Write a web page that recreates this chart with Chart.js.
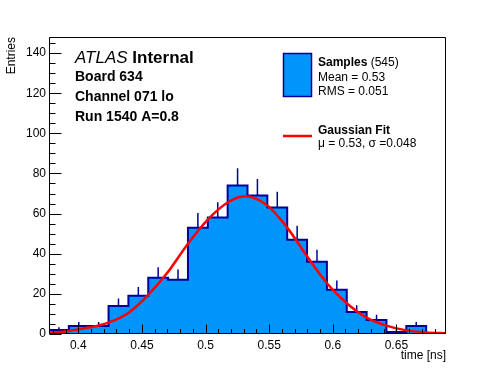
<!DOCTYPE html>
<html><head><meta charset="utf-8">
<script src="https://cdn.jsdelivr.net/npm/chart.js@4.4.1/dist/chart.umd.min.js"></script>
<style>html,body{margin:0;padding:0;background:#fff;}#wrap{width:496px;height:372px;}</style>
</head><body><div id="wrap"><canvas id="c" width="496" height="372"></canvas></div>
<script>
// ---- data ----
const histMin = 0.377;
const histMax = 0.689;
const counts = [2, 4, 4, 14, 19, 28, 27, 53, 58, 74, 69, 63, 47, 36, 22, 11, 7, 1, 4, 0];
const errUp  = [1.4, 2, 2, 3.7, 4.4, 5.3, 5.2, 7.3, 7.6, 8.6, 8.3, 7.9, 6.9, 6, 4.7, 3.3, 2.6, 1, 2, 0];
const fitX = [0.377, 0.3926, 0.4082, 0.4238, 0.4394, 0.455, 0.4706, 0.4862, 0.5018, 0.5174, 0.531,
              0.5486, 0.5642, 0.5798, 0.5954, 0.611, 0.6266, 0.6422, 0.6578, 0.6734, 0.689];
const fitY = [0.5, 1.5, 3.2, 5.7, 10.5, 19.5, 31, 45, 57, 65.5, 68.6,
              64, 53, 38.7, 25.3, 15.3, 8.2, 4.2, 1.8, 0.8, 0.4];
const xTicks = [0.4, 0.45, 0.5, 0.55, 0.6, 0.65];
const yTicks = [0, 20, 40, 60, 80, 100, 120, 140];
const yMax = 148;

const textLines = ["Board 634", "Channel 071 lo", "Run 1540 A=0.8"];
const legendSamples = {title: "Samples", count: "(545)", lines: ["Mean = 0.53", "RMS = 0.051"]};
const legendFit = {title: "Gaussian Fit", line: "\u03bc = 0.53, \u03c3 =0.048"};

// ---- build datasets ----
const FONT = "'Liberation Sans', Arial, Helvetica, sans-serif";
const FILL = '#0095fb';
const EDGE = '#00009a';
const binW = (histMax - histMin) / counts.length;
const histPts = counts.map((c, i) => ({x: histMin + i * binW, y: c}));
histPts.push({x: histMax, y: counts[counts.length - 1]});
const errPts = [];
counts.forEach((c, i) => {
  if (errUp[i] > 0) {
    const xc = histMin + (i + 0.5) * binW;
    errPts.push({x: xc, y: c}, {x: xc, y: c + errUp[i]}, {x: xc, y: null});
  }
});
const fitPts = fitX.map((x, i) => ({x: x, y: fitY[i]}));

const rootDeco = {
  id: 'rootDeco',
  afterDatasetsDraw(chart) {
    const ctx = chart.ctx, a = chart.chartArea;
    const xs = chart.scales.x, ys = chart.scales.y;
    ctx.save();
    ctx.strokeStyle = '#000';
    ctx.lineWidth = 1;
    // frame
    const L = Math.round(a.left) + 0.5, R = Math.round(a.right) - 0.5;
    const T = Math.round(a.top) + 0.5, B = Math.round(a.bottom) - 0.5;
    ctx.beginPath();
    ctx.rect(L, T, R - L, B - T);
    // x ticks (inside)
    for (let k = 38; k <= 68; k++) {
      const v = k / 100;
      const px = Math.round(xs.getPixelForValue(v)) + 0.5;
      if (px < L || px > R) continue;
      const len = (k % 5 === 0) ? 9 : 4.5;
      ctx.moveTo(px, B); ctx.lineTo(px, B - len);
    }
    // y ticks (inside)
    for (let v = 0; v <= yMax; v += 5) {
      const py = Math.round(ys.getPixelForValue(v)) + 0.5;
      const len = (v % 20 === 0) ? 12 : 6;
      ctx.moveTo(L, py); ctx.lineTo(L + len, py);
    }
    ctx.stroke();

    // axis titles
    ctx.fillStyle = '#000';
    ctx.font = '12px ' + FONT;
    ctx.textAlign = 'right';
    ctx.textBaseline = 'alphabetic';
    ctx.fillText('time [ns]', a.right, 359);
    ctx.save();
    ctx.translate(15, a.top);
    ctx.rotate(-Math.PI / 2);
    ctx.fillText('Entries', 0, 0);
    ctx.restore();

    // ATLAS label
    ctx.textAlign = 'left';
    ctx.font = 'italic 17px ' + FONT;
    ctx.fillText('ATLAS', 75, 63);
    const wA = ctx.measureText('ATLAS ').width;
    ctx.font = 'bold 17px ' + FONT;
    ctx.fillText('Internal', 75 + wA, 63);
    ctx.font = 'bold 14px ' + FONT;
    textLines.forEach((t, i) => ctx.fillText(t, 75, 81 + i * 20));

    // legend
    ctx.fillStyle = FILL;
    ctx.fillRect(283.5, 53.5, 28, 43);
    ctx.strokeStyle = EDGE;
    ctx.lineWidth = 1.5;
    ctx.strokeRect(283.5, 53.5, 28, 43);
    ctx.strokeStyle = '#ff0000';
    ctx.lineWidth = 2.5;
    ctx.beginPath(); ctx.moveTo(283, 136); ctx.lineTo(312, 136); ctx.stroke();

    ctx.fillStyle = '#000';
    ctx.font = 'bold 12px ' + FONT;
    ctx.fillText(legendSamples.title, 318, 66);
    const wS = ctx.measureText(legendSamples.title + ' ').width;
    ctx.font = '12px ' + FONT;
    ctx.fillText(legendSamples.count, 318 + wS, 66);
    legendSamples.lines.forEach((t, i) => ctx.fillText(t, 318, 80.5 + i * 14));
    ctx.font = 'bold 12px ' + FONT;
    ctx.fillText(legendFit.title, 318, 134);
    ctx.font = '12px ' + FONT;
    ctx.fillText(legendFit.line, 318, 147);
    ctx.restore();
  }
};

new Chart(document.getElementById('c'), {
  type: 'line',
  data: {
    datasets: [
      {data: fitPts, borderColor: '#ff0000', borderWidth: 2.5, pointRadius: 0,
       cubicInterpolationMode: 'monotone', fill: false, order: 0},
      {data: errPts, borderColor: EDGE, borderWidth: 1.5, pointRadius: 0,
       spanGaps: false, fill: false, order: 1},
      {data: histPts, borderColor: EDGE, backgroundColor: FILL, borderWidth: 2,
       pointRadius: 0, stepped: 'before', fill: 'origin', order: 2}
    ]
  },
  options: {
    responsive: false,
    animation: false,
    devicePixelRatio: 1,
    layout: {padding: {top: 37, right: 50, left: 0, bottom: 0}},
    plugins: {legend: {display: false}, tooltip: {enabled: false}},
    scales: {
      x: {
        type: 'linear', min: histMin, max: histMax,
        grid: {display: false, drawTicks: false},
        border: {display: false},
        afterBuildTicks: s => { s.ticks = xTicks.map(v => ({value: v})); },
        afterFit: s => { s.height = 38; },
        ticks: {color: '#000', font: {family: FONT, size: 12}, padding: 4,
                maxRotation: 0, autoSkip: false,
                callback: v => String(v)}
      },
      y: {
        type: 'linear', min: 0, max: yMax,
        grid: {display: false, drawTicks: false},
        border: {display: false},
        afterBuildTicks: s => { s.ticks = yTicks.map(v => ({value: v})); },
        afterFit: s => { s.width = 49; },
        ticks: {color: '#000', font: {family: FONT, size: 12}, padding: 3,
                autoSkip: false, callback: v => String(v)}
      }
    }
  },
  plugins: [rootDeco]
});
</script>
</body></html>
